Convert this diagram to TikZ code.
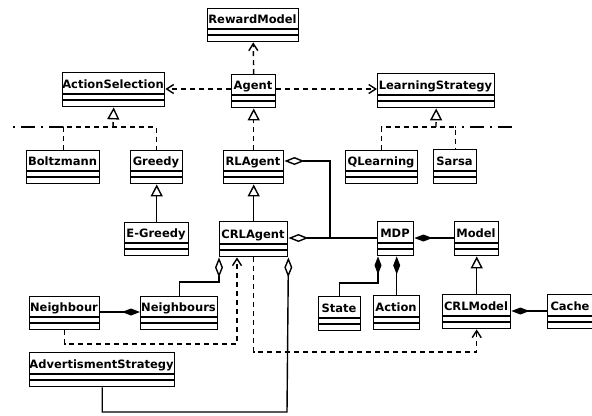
\documentclass[tikz,border=0pt]{standalone}
\usepackage{fontspec}
\setmainfont{DejaVu Sans}
\usetikzlibrary{arrows.meta}
\tikzset{
  clsbox/.style={draw, line width=1.4bp, fill=white, inner sep=0pt, rectangle},
  clstext/.style={inner sep=0pt, font=\bfseries\fontsize{11.5bp}{13bp}\selectfont},
  cline/.style={line width=1.4bp},
  dsh/.style={line width=1.4bp, dash pattern=on 5bp off 4bp},
  dashdotline/.style={line width=1.4bp, dash pattern=on 14bp off 6bp on 2bp off 6bp},
  dep/.style={dsh, -{Straight Barb[length=7bp,width=9bp,line width=1.4bp]}},
  real/.style={dsh, -{Triangle[open,length=12bp,width=12bp,line width=1.4bp]}},
  gen/.style={cline, -{Triangle[open,length=12bp,width=12bp,line width=1.4bp]}},
  agg/.style={cline, {Diamond[open,length=20bp,width=8bp,line width=1.4bp]}-},
  comp/.style={cline, {Diamond[length=18bp,width=7bp]}-}
}
\newcommand\uclass[6]{%
  \node[clsbox, minimum width={(#4-#2)*1bp}, minimum height={(#5-#3)*1bp}, anchor=north west] (#1) at (#2,#3) {};
  \node[clstext, anchor=base] (#1-t) at ({(#2+#4)/2},{#5-17.5}) {#6};
  \draw[cline] (#2,{#5-12}) -- (#4,{#5-12});
  \draw[cline] (#2,{#5-6}) -- (#4,{#5-6});
}
\begin{document}
\begin{tikzpicture}[x=1bp,y=-1bp]
\useasboundingbox[fill=white] (0,0) rectangle (592,415);
\uclass{RewardModel}{207}{8}{298}{41}{RewardModel}
\uclass{ActionSelection}{62}{72}{164}{106}{ActionSelection}
\uclass{Agent}{231}{74}{275}{107}{Agent}
\uclass{LearningStrategy}{377}{73}{494}{107}{LearningStrategy}
\uclass{Boltzmann}{26}{150}{99}{183}{Boltzmann}
\uclass{Greedy}{130}{150}{182}{183}{Greedy}
\uclass{RLAgent}{223}{150}{283}{183}{RLAgent}
\uclass{QLearning}{345}{150}{417}{183}{QLearning}
\uclass{Sarsa}{433}{149}{476}{183}{Sarsa}
\uclass{EGreedy}{124}{222}{188}{255}{E-Greedy}
\uclass{CRLAgent}{219}{221}{287}{256}{CRLAgent}
\uclass{MDP}{377}{221}{413}{255}{MDP}
\uclass{Model}{454}{221}{498}{255}{Model}
\uclass{Neighbour}{29}{296}{99}{329}{Neighbour}
\uclass{Neighbours}{140}{296}{217}{329}{Neighbours}
\uclass{State}{318}{296}{360}{330}{State}
\uclass{Action}{373}{295}{419}{329}{Action}
\uclass{CRLModel}{442}{294}{510}{328}{CRLModel}
\uclass{Cache}{547}{294}{593}{328}{Cache}
\uclass{AdvertismentStrategy}{29}{352}{174}{386}{AdvertismentStrategy}

\coordinate (ay) at (0,89);
\coordinate (asj) at (113,127);
\coordinate (asl) at (8,127);
\coordinate (lsj) at (436,127);
\coordinate (lsr) at (512,127);
\coordinate (rly) at (0,161);
\coordinate (mj) at (330,238);
\coordinate (sx) at (378,283);
\coordinate (cy) at (0,311);
\coordinate (ny) at (0,312);
\coordinate (nbj) at (219,282);
\coordinate (adj) at (287,412);
\coordinate (ndj) at (237,344);
\coordinate (cmy) at (0,352);

% dependencies from Agent
\draw[dep] (Agent.north) -- (RewardModel.south);
\draw[dep] (Agent.west |- ay) -- (ActionSelection.east |- ay);
\draw[dep] (Agent.east |- ay) -- (LearningStrategy.west |- ay);
\draw[real] (RLAgent.north) -- (Agent.south);

% action selection realizations
\draw[real] (asj) -- (ActionSelection.south);
\draw[dsh] (Boltzmann.north) |- (Greedy.north |- asj) -- (Greedy.north);
\draw[dashdotline] (Boltzmann.north |- asj) -- (asl);

% learning strategy realizations
\draw[real] (lsj) -- (LearningStrategy.south);
\draw[dsh] (QLearning.north) |- (Sarsa.north |- lsj) -- (Sarsa.north);
\draw[dashdotline] (lsr) -- (Sarsa.north |- lsj);

% generalizations
\draw[gen] (EGreedy.north) -- (Greedy.south);
\draw[gen] (CRLAgent.north) -- (RLAgent.south);
\draw[gen] (CRLModel.north) -- (Model.south);

% aggregations / compositions
\draw[agg] (RLAgent.east |- rly) -| (mj) -- (MDP.west |- mj);
\draw[agg] (CRLAgent.east |- mj) -- (mj);
\draw[comp] (MDP.east |- mj) -- (Model.west |- mj);
\draw[comp] (MDP.south -| sx) -- (sx) -| (State.north);
\draw[comp] (Action.north |- MDP.south) -- (Action.north);
\draw[comp] (CRLModel.east |- cy) -- (Cache.west |- cy);
\draw[comp] (Neighbours.west |- ny) -- (Neighbour.east |- ny);
\draw[agg] (CRLAgent.south west) -- (nbj) -| (Neighbours.north);
\draw[agg] (CRLAgent.south east) -- (adj) -| (AdvertismentStrategy.south);

% dependencies at bottom
\draw[dep] (Neighbour.south) |- (ndj) -- (CRLAgent.south -| ndj);
\draw[dep] (CRLAgent.south) |- (CRLModel.south |- cmy) -- (CRLModel.south);
\end{tikzpicture}
\end{document}
